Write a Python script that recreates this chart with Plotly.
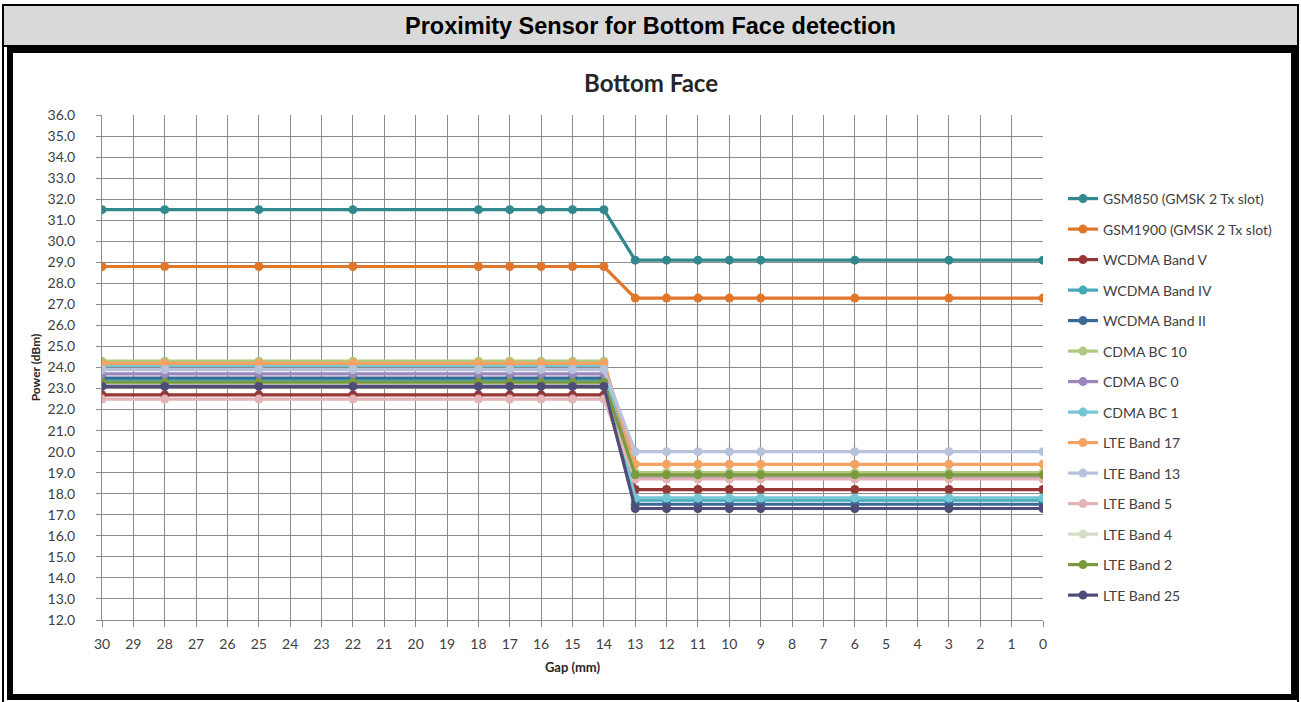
import plotly.graph_objects as go

# ---------------- data ----------------
gap_mm = [30, 28, 25, 22, 18, 17, 16, 15, 14, 13, 12, 11, 10, 9, 6, 3, 0]
tick_vals = list(range(30, -1, -1))
tick_text = [str(v) for v in tick_vals]

series_names = [
    "GSM850 (GMSK 2 Tx slot)", "GSM1900 (GMSK 2 Tx slot)", "WCDMA Band V",
    "WCDMA Band IV", "WCDMA Band II", "CDMA BC 10", "CDMA BC 0", "CDMA BC 1",
    "LTE Band 17", "LTE Band 13", "LTE Band 5", "LTE Band 4", "LTE Band 2",
    "LTE Band 25",
]

gsm850 =     [31.5]*9 + [29.1]*8
gsm1900 =    [28.8]*9 + [27.3]*8
wcdma_v =    [22.7]*9 + [18.2]*8
wcdma_iv =   [23.4]*9 + [17.7]*8
wcdma_ii =   [23.5]*9 + [17.5]*8
cdma_bc10 =  [24.3]*9 + [19.0]*8
cdma_bc0 =   [23.7]*9 + [18.8]*8
cdma_bc1 =   [24.1]*9 + [17.8]*8
lte_17 =     [24.2]*9 + [19.4]*8
lte_13 =     [23.9]*9 + [20.0]*8
lte_5 =      [22.5]*9 + [18.7]*8
lte_4 =      [23.2]*9 + [18.9]*8
lte_2 =      [23.3]*9 + [18.9]*8
lte_25 =     [23.1]*9 + [17.3]*8

series_values = [gsm850, gsm1900, wcdma_v, wcdma_iv, wcdma_ii, cdma_bc10, cdma_bc0,
                 cdma_bc1, lte_17, lte_13, lte_5, lte_4, lte_2, lte_25]

colors = ["#31898F", "#E0762A", "#953735", "#46A9BA", "#3A6A96", "#AFC97E", "#9B87BD",
          "#74C6D4", "#F6A262", "#B7C3DD", "#E3B3B5", "#D4DDC6", "#7A9A3D", "#4F4C7A"]

# ---------------- layout geometry (pixels) ----------------
W, H = 1301, 702
L, R, T, B = 102, 1043, 115, 620


def px(x):
    return (x - L) / (R - L)


def py(y):
    return (B - y) / (B - T)


fig = go.Figure()
for name, vals, col in zip(series_names, series_values, colors):
    fig.add_trace(go.Scatter(
        x=gap_mm, y=vals, name=name, mode="lines+markers",
        line=dict(color=col, width=3.2),
        marker=dict(color=col, size=9, symbol="circle"),
        legendgroup=name,
    ))

font_fam = "Lato, 'Open Sans', sans-serif"
grid_col = "#8C8C8C"

shapes = [
    # header bar
    dict(type="rect", xref="paper", yref="paper", x0=px(3), x1=px(1298), y0=py(5), y1=py(46),
         fillcolor="#D9D9D9", line=dict(color="black", width=2), layer="below"),
    # outer thin lines
    dict(type="line", xref="paper", yref="paper", x0=px(3), x1=px(3), y0=py(46), y1=py(702),
         line=dict(color="black", width=2)),
    dict(type="line", xref="paper", yref="paper", x0=px(1298), x1=px(1298), y0=py(46), y1=py(702),
         line=dict(color="black", width=2)),
    # chart frame
    dict(type="rect", xref="paper", yref="paper", x0=px(10), x1=px(1294), y0=py(50), y1=py(697),
         line=dict(color="black", width=6)),
]

annotations = [
    dict(text="<b>Proximity Sensor for Bottom Face detection</b>", xref="paper", yref="paper",
         x=px(650), y=py(26), showarrow=False, xanchor="center", yanchor="middle",
         font=dict(family="Liberation Sans, Arial, sans-serif", size=23.5, color="black")),
    dict(text="<b>Bottom Face</b>", xref="paper", yref="paper",
         x=px(651), y=py(83), showarrow=False, xanchor="center", yanchor="middle",
         font=dict(family=font_fam, size=24, color="#262626")),
]

fig.update_layout(
    width=W, height=H,
    margin=dict(l=L, r=W - R, t=T, b=H - B, pad=0),
    paper_bgcolor="white", plot_bgcolor="white",
    shapes=shapes, annotations=annotations,
    showlegend=True,
    legend=dict(x=px(1063), y=py(183), xanchor="left", yanchor="top",
                font=dict(family=font_fam, size=14, color="#404040"),
                tracegroupgap=9.3, bgcolor="rgba(0,0,0,0)"),
    font=dict(family=font_fam, color="#404040"),
)

fig.update_xaxes(
    range=[30, 0], tickmode="array", tickvals=tick_vals, ticktext=tick_text,
    showgrid=True, gridcolor=grid_col, gridwidth=1,
    showline=True, linecolor=grid_col, linewidth=1, mirror=False,
    ticks="outside", ticklen=6, tickcolor=grid_col, ticklabelstandoff=5,
    tickfont=dict(family=font_fam, size=14, color="#404040"),
    title=dict(text="<b>Gap (mm)</b>", font=dict(family=font_fam, size=13, color="#262626"),
               standoff=12),
    zeroline=False,
)
fig.update_yaxes(
    range=[12, 36], dtick=1, tick0=12, tickformat=".1f",
    showgrid=True, gridcolor=grid_col, gridwidth=1,
    showline=True, linecolor=grid_col, linewidth=1,
    ticks="outside", ticklen=5, tickcolor=grid_col, ticklabelstandoff=18,
    tickfont=dict(family=font_fam, size=14, color="#404040"),
    title=dict(text="<b>Power (dBm)</b>", font=dict(family=font_fam, size=12, color="#262626"),
               standoff=4),
    zeroline=False,
)

fig.write_html("out.html", config={"displayModeBar": False},
               post_script="document.body.style.margin='0';")
